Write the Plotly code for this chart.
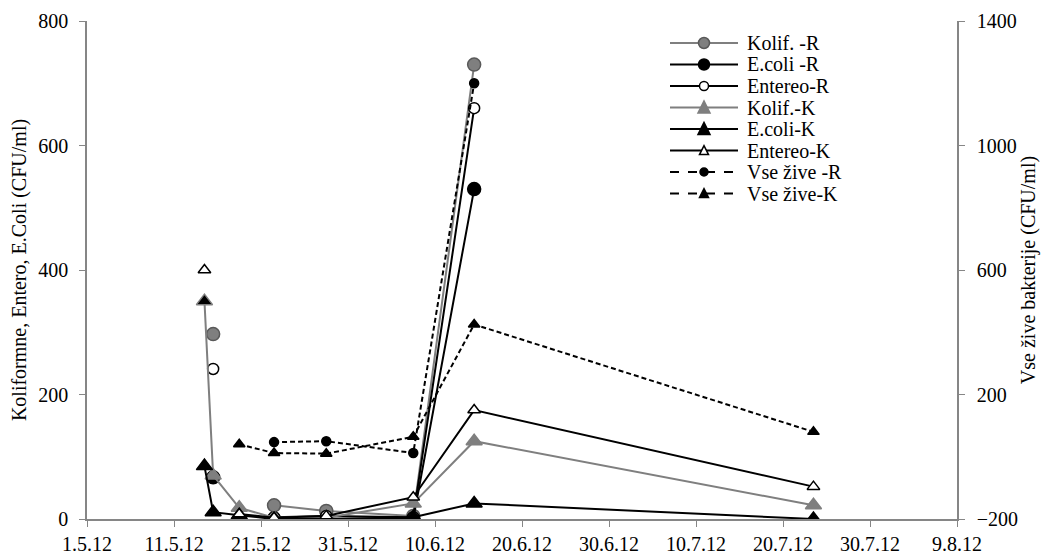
import plotly.graph_objects as go

# ---- data ----
dates_R = ["2012-05-15 12:00", "2012-05-18 12:00", "2012-05-22 12:00",
           "2012-05-28 12:00", "2012-06-07 12:00", "2012-06-14 12:00"]
kolif_R = [297, None, 22, 13, 5, 730]
ecoli_R = [67, None, 0, 0, 0, 530]
entereo_R = [241, None, 3, 5, 3, 660]
vse_R = [None, None, 47, 50, 12, 1200]

dates_K = ["2012-05-14 12:00", "2012-05-15 12:00", "2012-05-18 12:00",
           "2012-05-22 12:00", "2012-05-28 12:00", "2012-06-07 12:00",
           "2012-06-14 12:00", "2012-07-23 12:00"]
kolif_K = [350, 70, 18, 2, 2, 25, 125, 22]
ecoli_K = [85, 11, 6, 0, 0, 3, 25, 0]
entereo_K = [400, None, 8, 2, 5, 35, 175, 52]
vse_K = [None, None, 40, 12, 10, 64, 425, 80]

series_names = ["Kolif. -R", "E.coli -R", "Entereo-R", "Kolif.-K",
                "E.coli-K", "Entereo-K", "Vse žive -R", "Vse žive-K"]

GRAY = "#7f7f7f"
FONT = "'Liberation Serif', 'Times New Roman', Times, serif"

# style per series: (line color, symbol, fill, marker edge, size, dash, axis)
styles = [
    (GRAY, "circle", GRAY, "#595959", 13, "solid", "y"),
    ("black", "circle", "black", "black", 13, "solid", "y"),
    ("black", "circle", "white", "black", 11, "solid", "y"),
    (GRAY, "triangle-up", GRAY, GRAY, 14, "solid", "y"),
    ("black", "triangle-up", "black", "black", 14, "solid", "y"),
    ("black", "triangle-up", "white", "black", 11, "solid", "y"),
    ("black", "circle", "black", "black", 9, "5px,3px", "y2"),
    ("black", "triangle-up", "black", "black", 10, "5px,3px", "y2"),
]
xs = [dates_R, dates_R, dates_R, dates_K, dates_K, dates_K, dates_R, dates_K]
ys = [kolif_R, ecoli_R, entereo_R, kolif_K, ecoli_K, entereo_K, vse_R, vse_K]

fig = go.Figure()
for name, x, y, st in zip(series_names, xs, ys, styles):
    lc, sym, fill, edge, size, dash, ax = st
    color = fill
    if name == "Kolif.-K":
        color = ["black"] + [GRAY] * (len(y) - 1)
    fig.add_trace(go.Scatter(
        x=x, y=y, name=name, mode="lines+markers", yaxis=ax, connectgaps=False,
        line=dict(color=lc, width=2, dash=dash),
        marker=dict(symbol=sym, size=size, color=color, line=dict(color=edge, width=1.5)),
        showlegend=False,
    ))

# ---- legend drawn as layout shapes and text (Excel-like compact legend) ----
L, R, T, B = 87, 957, 21, 519
px2x = lambda p: (p - L) / (R - L)
px2y = lambda p: (B - p) / (B - T)
shapes, annots = [], []
for i, (name, st) in enumerate(zip(series_names, styles)):
    lc, sym, fill, edge, size, dash, ax = st
    yp = px2y(43 + 21.5 * i)
    shapes.append(dict(type="line", xref="paper", yref="paper",
                       x0=px2x(670), x1=px2x(738), y0=yp, y1=yp,
                       line=dict(color=lc, width=2, dash="dash" if dash != "solid" else "solid")))
    r = {13: 5.5, 11: 4.5, 9: 4, 14: 6, 10: 4.5}[size]
    common = dict(xref="paper", yref="paper", xsizemode="pixel", ysizemode="pixel",
                  xanchor=px2x(704), yanchor=yp, fillcolor=fill,
                  line=dict(color=edge, width=1.5))
    if sym == "circle":
        shapes.append(dict(type="circle", x0=-r, x1=r, y0=-r, y1=r, **common))
    else:
        h = r * 0.9
        shapes.append(dict(type="path",
                           path=f"M {-r},{-h} L {r},{-h} L 0,{h * 1.2} Z", **common))
    annots.append(dict(text=name, xref="paper", yref="paper", x=px2x(745), y=yp,
                       xanchor="left", yanchor="middle", showarrow=False,
                       font=dict(family=FONT, size=20, color="black")))

axis_common = dict(showgrid=False, zeroline=False, showline=True, linecolor="#868686",
                   linewidth=1.5, ticks="outside", tickcolor="#868686", ticklen=6,
                   automargin=False, tickfont=dict(family=FONT, size=20, color="black"))

fig.update_layout(
    width=1043, height=555,
    margin=dict(l=87, r=86, t=21, b=36, autoexpand=False),
    paper_bgcolor="white", plot_bgcolor="white",
    font=dict(family=FONT, size=20, color="black"),
    showlegend=False,
    shapes=shapes, annotations=annots,
    xaxis=dict(type="date", range=["2012-05-01", "2012-08-09"],
               tick0="2012-05-01", dtick=10 * 86400000, tickformat="%-d.%-m.%y",
               **axis_common),
    yaxis=dict(range=[0, 800], dtick=200, tick0=0, ticklabelstandoff=7,
               title=dict(text="Koliformne, Entero, E.Coli (CFU/ml)",
                          font=dict(family=FONT, size=20), standoff=6),
               **axis_common),
    yaxis2=dict(range=[-200, 1400], dtick=400, tick0=-200, overlaying="y", side="right",
                ticklabelstandoff=8,
                title=dict(text="Vse žive bakterije (CFU/ml)",
                           font=dict(family=FONT, size=20), standoff=4),
                **axis_common),
)

fig.write_html("out.html", config={"displayModeBar": False},
               post_script="document.body.style.margin='0';document.body.style.overflow='hidden';")
